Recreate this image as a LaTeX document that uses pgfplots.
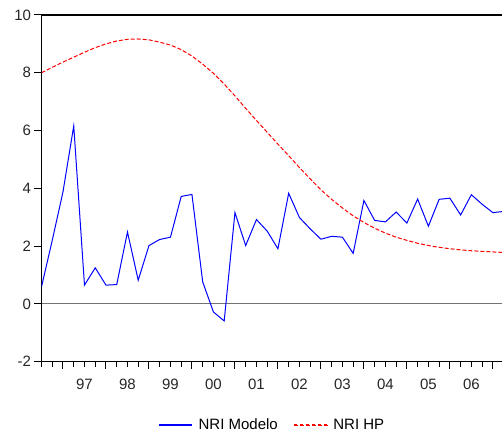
\documentclass[border=0pt]{standalone}
\usepackage{pgfplots}
\pgfplotsset{compat=1.18}
\usepackage{fontspec}
\setmainfont{Liberation Sans}
\begin{document}
\begin{tikzpicture}
\begin{axis}[
  scale only axis,
  width=460.5pt, height=346.7pt,
  xmin=0, xmax=42.85,
  ymin=-2, ymax=10,
  axis x line=box, axis y line=left,
  every outer y axis line/.append style={-},
  every inner x axis line/.append style={-},
  axis line style={black, line width=1.2pt},
  xtick={2,6,...,42}, xticklabels={},
  minor xtick={0,1,...,43},
  extra x ticks={4,8,...,40},
  extra x tick labels={97,98,99,00,01,02,03,04,05,06},
  extra x tick style={major tick length=0pt, xticklabel style={yshift=-14pt}},
  ytick={-2,0,2,4,6,8,10},
  yticklabels={-2,0,2,4,6,8,10},
  xtick pos=bottom, ytick pos=left,
  tick align=outside,
  major tick length=7pt, minor tick length=5pt,
  tick style={black, line width=1pt},
  tick label style={font=\fontsize{15}{18}\selectfont, text=black!85},
  legend style={at={(0.502,-0.183)}, anchor=center, legend columns=2,
    font=\fontsize{15}{18}\selectfont, /tikz/every even column/.append style={column sep=14pt}},
  every axis legend/.append style={draw=white},
  clip=true,
]
\addplot[black!55, line width=1pt, forget plot] coordinates {(0,0) (43,0)};
\addplot[color=blue, line width=1pt,
  legend image code/.code={\pgfpathmoveto{\pgfpoint{37pt}{0pt}}\pgfusepath{discard}\fill[blue] (0pt,-0.5pt) rectangle (32pt,0.5pt);}] coordinates {
(0,0.59) (1,2.2) (2,3.88) (3,6.16) (4,0.65) (5,1.25) (6,0.65) (7,0.67) (8,2.49) (9,0.82)
(10,2.02) (11,2.23) (12,2.31) (13,3.72) (14,3.79) (15,0.76) (16,-0.28) (17,-0.59) (18,3.16) (19,2.02)
(20,2.92) (21,2.52) (22,1.91) (23,3.83) (24,2.99) (25,2.60) (26,2.24) (27,2.34) (28,2.31) (29,1.75)
(30,3.58) (31,2.89) (32,2.84) (33,3.18) (34,2.80) (35,3.63) (36,2.69) (37,3.62) (38,3.66) (39,3.08)
(40,3.78) (41,3.45) (42,3.16) (43,3.20)};
\addlegendentry{NRI Modelo}
\addplot[color=red, line width=1pt, dash pattern=on 4pt off 2pt,
  legend image code/.code={\pgfpathmoveto{\pgfpoint{37pt}{0pt}}\pgfusepath{discard}\foreach \i in {0,6,...,30}{\fill[red] (\i pt,-0.5pt) rectangle (\i pt+3.5pt,0.5pt);}}] coordinates {
(0,8.00) (1,8.19) (2,8.37) (3,8.54) (4,8.71) (5,8.87) (6,9.00) (7,9.10) (8,9.16) (9,9.17)
(10,9.14) (11,9.06) (12,8.96) (13,8.80) (14,8.58) (15,8.30) (16,7.98) (17,7.61) (18,7.20) (19,6.77)
(20,6.35) (21,5.94) (22,5.53) (23,5.13) (24,4.72) (25,4.33) (26,3.95) (27,3.62) (28,3.32) (29,3.05)
(30,2.82) (31,2.62) (32,2.45) (33,2.31) (34,2.20) (35,2.10) (36,2.02) (37,1.96) (38,1.91) (39,1.87)
(40,1.84) (41,1.82) (42,1.80) (43,1.78)};
\addlegendentry{NRI HP}
\end{axis}
\pgfresetboundingbox
\path (-41.5pt,-75.3pt) rectangle (460.5pt,361.7pt);
\end{tikzpicture}
\end{document}
